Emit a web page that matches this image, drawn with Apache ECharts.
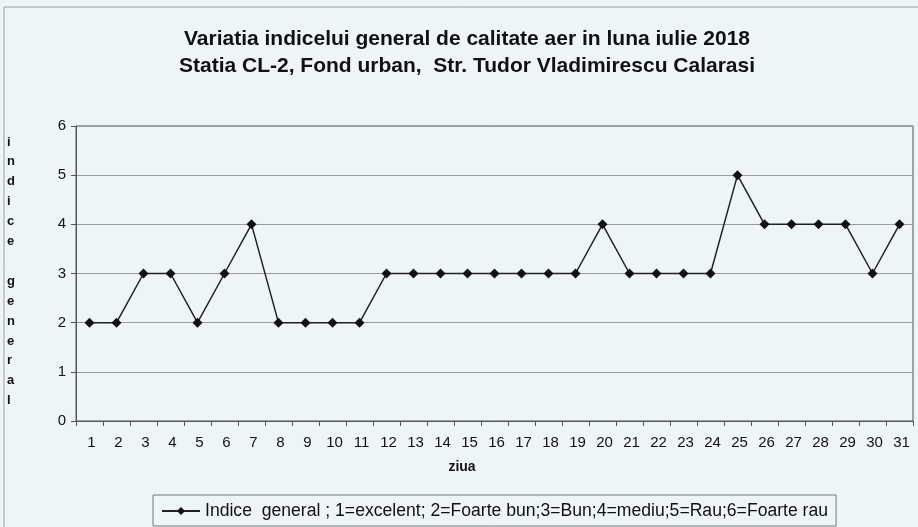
<!DOCTYPE html>
<html><head><meta charset="utf-8">
<script src="https://cdn.jsdelivr.net/npm/echarts@6/dist/echarts.min.js"></script>
<style>html,body{margin:0;padding:0;background:#eef5f9;}#c{width:918px;height:527px;}</style>
</head><body><div id="c"></div>
<script>
var days = ['1','2','3','4','5','6','7','8','9','10','11','12','13','14','15','16','17','18','19','20','21','22','23','24','25','26','27','28','29','30','31'];
var indice = [2,2,3,3,2,3,4,2,2,2,2,3,3,3,3,3,3,3,3,4,3,3,3,3,5,4,4,4,4,3,4];
var yTicks = [0,1,2,3,4,5,6];
var seriesName = 'Indice  general ; 1=excelent; 2=Foarte bun;3=Bun;4=mediu;5=Rau;6=Foarte rau';
var titleText = 'Variatia indicelui general de calitate aer in luna iulie 2018\nStatia CL-2, Fond urban,  Str. Tudor Vladimirescu Calarasi';
var yName = 'indice general';
var xName = 'ziua';

var chart = echarts.init(document.getElementById('c'));
chart.setOption({
  backgroundColor: '#eef5f9',
  animation: false,
  title: {
    text: titleText,
    left: 462, textAlign: 'center', top: 21,
    textStyle: {fontFamily: 'Liberation Sans', fontWeight: 'bold', fontSize: 21, color: '#111', lineHeight: 27}
  },
  graphic: [
    {type: 'rect', shape: {x: 4, y: 7, width: 920, height: 530}, style: {fill: 'none', stroke: '#9aa0a4', lineWidth: 1}, silent: true},
    {type: 'text', left: 7, top: 132, style: {text: yName.split('').join('\n'), fontFamily: 'Liberation Sans', fontWeight: 'bold', fontSize: 13, lineHeight: 19.9, fill: '#111', align: 'center'}},
    {type: 'text', x: 462, y: 467, style: {text: xName, fontFamily: 'Liberation Sans', fontWeight: 'bold', fontSize: 14, fill: '#111', align: 'center', verticalAlign: 'middle'}}
  ],
  grid: {left: 76, right: 5, top: 126, bottom: 106, show: true, borderColor: '#555', borderWidth: 1, backgroundColor: 'transparent'},
  xAxis: {
    type: 'category', data: days, boundaryGap: true,
    axisLine: {lineStyle: {color: '#555'}},
    axisTick: {show: true, alignWithLabel: false, length: 5, lineStyle: {color: '#555'}},
    axisLabel: {fontFamily: 'Liberation Sans', fontSize: 15, color: '#111', margin: 14, interval: 0, padding: [0, 0, 0, 4]},
    splitLine: {show: false}
  },
  yAxis: {
    type: 'value', min: 0, max: 6, interval: 1,
    axisLine: {show: true, lineStyle: {color: '#555'}},
    axisTick: {show: true, length: 5, lineStyle: {color: '#555'}},
    axisLabel: {fontFamily: 'Liberation Sans', fontSize: 15, color: '#111', margin: 10,
      formatter: function (v) { return yTicks.indexOf(v) >= 0 ? String(v) : ''; }},
    splitLine: {show: true, lineStyle: {color: '#9a9a9a', width: 1}}
  },
  legend: {
    bottom: 1, left: 153,
    data: [seriesName],
    borderColor: '#777', borderWidth: 1, padding: [7, 8, 6, 8],
    itemWidth: 38, itemHeight: 10, itemGap: 4,
    textStyle: {fontFamily: 'Liberation Sans', fontSize: 17.6, color: '#111'}
  },
  series: [{
    name: seriesName, type: 'line', data: indice,
    symbol: 'diamond', symbolSize: 10,
    lineStyle: {color: '#222', width: 1.5},
    itemStyle: {color: '#111'}
  }]
});
</script></body></html>
